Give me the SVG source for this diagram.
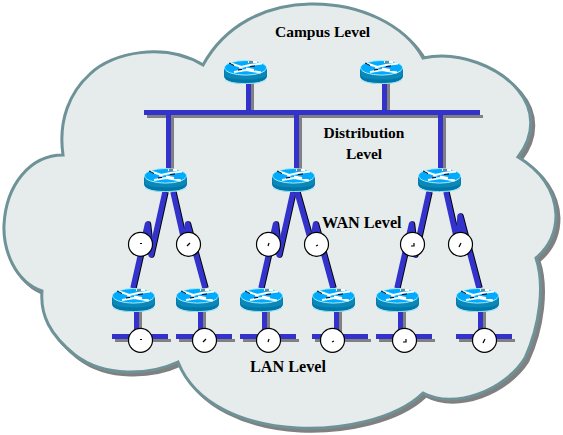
<svg xmlns="http://www.w3.org/2000/svg" width="563" height="435" viewBox="0 0 563 435">
<style>
.lbl{font-family:"Liberation Serif","Times New Roman",serif;font-weight:bold;font-size:15.5px;fill:#000}
.w{font-size:16.2px}
.b{fill:#3333cc}
.g{fill:#808080}
.k{fill:none;stroke:#000;stroke-width:5.5;stroke-linejoin:round}
.l{fill:none;stroke:#3333cc;stroke-width:5.5;stroke-linejoin:round}
.c{fill:#fff;stroke:#000;stroke-width:1.2}
.h{stroke:#000;stroke-width:1.2;fill:none}
</style>
<defs>
<path id="cloud" d="M63,155 C58,120 70,92 90,74 C112,52 165,42 203,65 C225,25 265,5 310,4 C360,3 405,25 423,58 C460,50 500,68 518,90 C535,110 535,135 518,157 C540,170 555,190 556,215 C556,235 548,248 536,258 C545,285 540,325 525,358 C505,390 455,410 423,393 C395,420 340,430 297,428 C245,425 195,405 178,362 C150,375 105,378 75,355 C50,335 40,315 42,291 C15,282 3,250 4,225 C6,185 30,155 63,155 Z"/>
<g id="router">
<path d="M0,8 V16 C0,20.500 10,24 21.500,24 C33,24 43,20.500 43,16 V8 Z" fill="#0077aa"/>
<path d="M1,20 C5,22.500 12,23.500 21.500,23.500 C31,23.500 38,22.500 42,20" fill="none" stroke="#99e6f5" stroke-width="1"/>
<path d="M0.500,10 V15 C1,18 10,19.500 21.500,19.500 C33,19.500 42,18 42.500,15 V10 Z" fill="#0a88b8"/>
<ellipse cx="21.500" cy="7.800" rx="21" ry="7.300" fill="#00aaff" stroke="#a5eefa" stroke-width="1"/>
<path d="M7,3.500 L19,7.500 M15,7.500 L26,5 L38,3.500 M24,2 L33,2 M10,12 L22,10 L37,12.500 M22,8.500 L30,10" stroke="#fff" stroke-width="2" fill="none"/>
<path d="M5,3 L10,5.500 M25,2 L29,2 M14,10 L18,9.500 M26,6.500 L31,6" stroke="#000" stroke-width="1" fill="none"/>
</g>
</defs>

<g id="cloud-shape">
<use href="#cloud" x="3" y="3" fill="#808080" stroke="#808080" stroke-width="3"/>
<use href="#cloud" fill="#e6ecec" stroke="#6d9298" stroke-width="3"/>
</g>

<g id="connectors">
<rect class="g" x="147" y="115" width="336" height="3"/>
<rect class="b" x="144" y="110" width="336" height="5"/>
<rect class="g" x="251" y="84" width="3" height="26"/><rect class="b" x="246" y="84" width="5" height="26"/>
<rect class="g" x="387" y="84" width="3" height="26"/><rect class="b" x="382" y="84" width="5" height="26"/>
<rect class="g" x="171" y="118" width="3" height="52"/><rect class="b" x="166" y="115" width="5" height="55"/>
<rect class="g" x="299" y="118" width="3" height="52"/><rect class="b" x="294" y="115" width="5" height="55"/>
<rect class="g" x="443" y="118" width="3" height="52"/><rect class="b" x="438" y="115" width="5" height="55"/>

<g transform="translate(1,0)">
<path class="k" d="M165,192 L151,255 L147.500,224 L133,288"/>
<path class="k" d="M173,192 L185,245 L187.500,224 L205,288"/>
<path class="k" d="M293,192 L279,255 L275.500,224 L261,288"/>
<path class="k" d="M297,192 L312,245 L315.500,224 L333,288"/>
<path class="k" d="M429,192 L415,255 L411.500,224 L397,288"/>
<path class="k" d="M446,192 L458,245 L460,216 L479,288"/>
</g>
<path class="l" d="M165,192 L151,255 L147.500,224 L133,288"/>
<path class="l" d="M173,192 L185,245 L187.500,224 L205,288"/>
<path class="l" d="M293,192 L279,255 L275.500,224 L261,288"/>
<path class="l" d="M297,192 L312,245 L315.500,224 L333,288"/>
<path class="l" d="M429,192 L415,255 L411.500,224 L397,288"/>
<path class="l" d="M446,192 L458,245 L460,216 L479,288"/>

<rect class="g" x="139" y="312" width="3" height="22"/><rect class="b" x="134" y="312" width="5" height="22"/>
<rect class="g" x="203" y="312" width="3" height="22"/><rect class="b" x="198" y="312" width="5" height="22"/>
<rect class="g" x="267" y="312" width="3" height="22"/><rect class="b" x="262" y="312" width="5" height="22"/>
<rect class="g" x="339" y="312" width="3" height="22"/><rect class="b" x="334" y="312" width="5" height="22"/>
<rect class="g" x="403" y="312" width="3" height="22"/><rect class="b" x="398" y="312" width="5" height="22"/>
<rect class="g" x="483" y="312" width="3" height="22"/><rect class="b" x="478" y="312" width="5" height="22"/>

<rect class="g" x="115" y="339" width="56" height="3"/><rect class="b" x="112" y="334" width="56" height="5"/>
<rect class="g" x="179" y="339" width="56" height="3"/><rect class="b" x="176" y="334" width="56" height="5"/>
<rect class="g" x="243" y="339" width="56" height="3"/><rect class="b" x="240" y="334" width="56" height="5"/>
<rect class="g" x="315" y="339" width="56" height="3"/><rect class="b" x="312" y="334" width="56" height="5"/>
<rect class="g" x="379" y="339" width="56" height="3"/><rect class="b" x="376" y="334" width="56" height="5"/>
<rect class="g" x="459" y="339" width="56" height="3"/><rect class="b" x="456" y="334" width="56" height="5"/>
</g>

<g id="router-campus-1"><use href="#router" x="224" y="60"/></g>
<g id="router-campus-2"><use href="#router" x="360" y="60"/></g>
<g id="router-dist-1"><use href="#router" x="144" y="168"/></g>
<g id="router-dist-2"><use href="#router" x="272" y="168"/></g>
<g id="router-dist-3"><use href="#router" x="418" y="168"/></g>
<g id="router-lan-1"><use href="#router" x="112" y="288"/></g>
<g id="router-lan-2"><use href="#router" x="176" y="288"/></g>
<g id="router-lan-3"><use href="#router" x="240" y="288"/></g>
<g id="router-lan-4"><use href="#router" x="312" y="288"/></g>
<g id="router-lan-5"><use href="#router" x="376" y="288"/></g>
<g id="router-lan-6"><use href="#router" x="456" y="288"/></g>

<g id="clock-wan-1"><circle class="c" cx="140.500" cy="244.300" r="12"/><path class="h" d="M140,243.500 H142"/></g>
<g id="clock-wan-2"><circle class="c" cx="188.500" cy="244.300" r="12"/><path class="h" d="M187,246 L190,243"/></g>
<g id="clock-wan-3"><circle class="c" cx="268.500" cy="244.300" r="12"/><path class="h" d="M268,246 L269,243"/></g>
<g id="clock-wan-4"><circle class="c" cx="316.500" cy="244.300" r="12"/><path class="h" d="M316,246 L318,245"/></g>
<g id="clock-wan-5"><circle class="c" cx="412.500" cy="244.300" r="12"/><path class="h" d="M411,246 H414 V243"/></g>
<g id="clock-wan-6"><circle class="c" cx="460.500" cy="244.300" r="12"/><path class="h" d="M459,247 L461,243"/></g>
<g id="clock-lan-1"><circle class="c" cx="140.500" cy="340.300" r="12"/><path class="h" d="M140,339.500 H142"/></g>
<g id="clock-lan-2"><circle class="c" cx="204.500" cy="340.300" r="12"/><path class="h" d="M203,342 L206,339"/></g>
<g id="clock-lan-3"><circle class="c" cx="268.500" cy="340.300" r="12"/><path class="h" d="M268,342 L269,339"/></g>
<g id="clock-lan-4"><circle class="c" cx="332.500" cy="340.300" r="12"/><path class="h" d="M332,342 L334,341"/></g>
<g id="clock-lan-5"><circle class="c" cx="404.500" cy="340.300" r="12"/><path class="h" d="M403,342 H406 V339"/></g>
<g id="clock-lan-6"><circle class="c" cx="484.500" cy="340.300" r="12"/><path class="h" d="M483,343 L485,339"/></g>

<g id="labels">
<text class="lbl" x="275" y="37">Campus Level</text>
<text class="lbl" x="364" y="138" text-anchor="middle">Distribution</text>
<text class="lbl" x="364" y="159" text-anchor="middle">Level</text>
<text class="lbl w" x="322" y="228">WAN Level</text>
<text class="lbl w" x="250" y="372">LAN Level</text>
</g>
</svg>
